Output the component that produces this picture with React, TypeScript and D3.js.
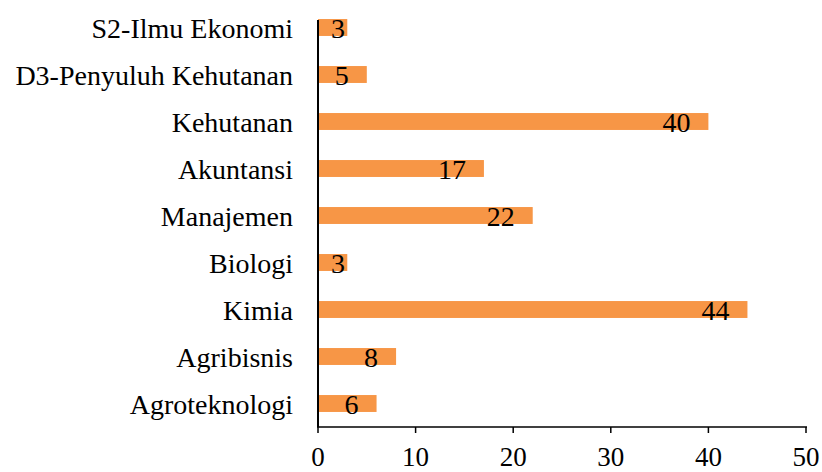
import React from 'react';
import * as d3 from 'd3';

const categories = [
  'S2-Ilmu Ekonomi',
  'D3-Penyuluh Kehutanan',
  'Kehutanan',
  'Akuntansi',
  'Manajemen',
  'Biologi',
  'Kimia',
  'Agribisnis',
  'Agroteknologi',
];
const values = [3, 5, 40, 17, 22, 3, 44, 8, 6];
const xTicks = [0, 10, 20, 30, 40, 50];

const W = 822;
const H = 472;
const font = '"Liberation Serif", "Times New Roman", serif';

export default function App() {
  // chart box
  const left = 318;
  const right = 806;
  const top = 4;
  const bottom = 427;

  const x = d3.scaleLinear().domain([0, 50]).range([left, right]);
  const y = d3.scaleBand<string>().domain(categories).range([top, bottom]).paddingInner(0.64).paddingOuter(0.32);

  return (
    <svg width={W} height={H} style={{ position: 'absolute', left: 0, top: 0, background: '#fff' }}>
      {categories.map((c, i) => {
        const y0 = y(c)!;
        const xe = x(values[i]);
        // label sits inside bar end, kept off the axis for short bars
        const lx = Math.max(xe - 18, x(0) + 27);
        return (
          <g key={c}>
            <rect x={x(0)} y={y0} width={xe - x(0)} height={y.bandwidth()} fill="#F79646" />
            <text x={lx} y={y0 + y.bandwidth() / 2 + 10} textAnchor="end" fontFamily={font} fontSize={28} fill="#000">
              {values[i]}
            </text>
            <text x={left - 25} y={y0 + y.bandwidth() / 2 + 10} textAnchor="end" fontFamily={font} fontSize={28} fill="#000">
              {c}
            </text>
          </g>
        );
      })}
      {/* axes */}
      <line x1={left} x2={left} y1={20} y2={bottom} stroke="#000" strokeWidth={2} />
      <line x1={left - 1} x2={right + 1} y1={bottom} y2={bottom} stroke="#000" strokeWidth={1.5} />
      {xTicks.map((t) => (
        <g key={t}>
          <line x1={x(t)} x2={x(t)} y1={bottom} y2={bottom + 6} stroke="#000" strokeWidth={1.5} />
          <text x={x(t)} y={466} textAnchor="middle" fontFamily={font} fontSize={27} fill="#000">
            {t}
          </text>
        </g>
      ))}
    </svg>
  );
}
